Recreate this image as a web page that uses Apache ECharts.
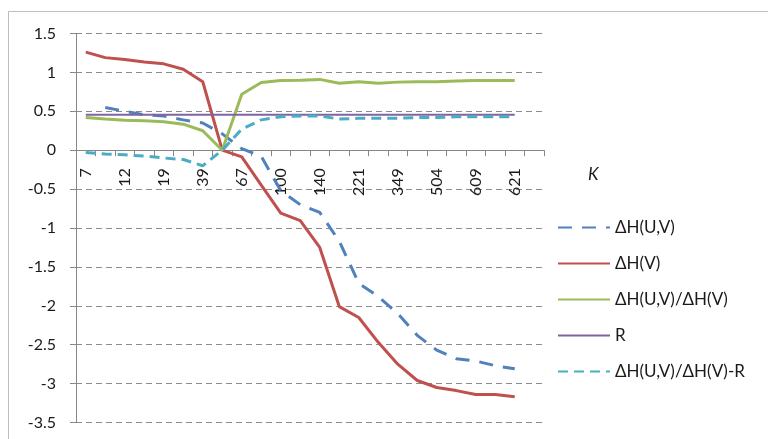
<!DOCTYPE html>
<html>
<head>
<meta charset="utf-8">
<script src="https://cdn.jsdelivr.net/npm/echarts@6/dist/echarts.min.js"></script>
<style>
html,body{margin:0;padding:0;background:#fff;}
#chart{width:768px;height:439px;}
</style>
</head>
<body>
<div id="chart"></div>
<script>
// Categories (K); every other label is shown on the axis
const categories = ['7','9','12','15','19','28','39','52','67','83','100','120','140','180','221','283','349','425','504','555','609','615','621',''];
const dHUV = [null,0.55,0.50,0.455,0.44,0.39,0.35,0.21,0.02,-0.08,-0.52,-0.70,-0.80,-1.17,-1.71,-1.88,-2.10,-2.38,-2.57,-2.68,-2.71,-2.77,-2.81];
const dHV = [1.26,1.19,1.165,1.135,1.11,1.04,0.88,0.0,-0.085,-0.45,-0.81,-0.905,-1.25,-2.01,-2.15,-2.47,-2.75,-2.96,-3.05,-3.09,-3.14,-3.14,-3.17];
const ratio = [0.42,0.40,0.385,0.377,0.365,0.335,0.25,0.0,0.72,0.87,0.895,0.9,0.91,0.86,0.88,0.86,0.875,0.88,0.88,0.89,0.895,0.895,0.895];
const R = [0.455,0.455,0.455,0.455,0.455,0.455,0.455,0.455,0.455,0.455,0.455,0.455,0.455,0.455,0.455,0.455,0.455,0.455,0.455,0.455,0.455,0.455,0.455];
const ratioMinusR = [-0.03,-0.05,-0.06,-0.075,-0.1,-0.12,-0.2,0.0,0.27,0.39,0.43,0.44,0.44,0.40,0.41,0.41,0.41,0.42,0.42,0.43,0.43,0.43,0.43];
const seriesNames = ['ΔH(U,V)','ΔH(V)','ΔH(U,V)/ΔH(V)','R','ΔH(U,V)/ΔH(V)-R'];
const yMin = -3.5, yMax = 1.5, yStep = 0.5;

const FONT = 'Lato, "Open Sans", sans-serif';
const H = 439, gridTop = 33.5, gridBottom = 16.5;
const gridH = H - gridTop - gridBottom;
// shift the category axis up so it crosses the value axis at 0
const zeroOffset = -gridH * (0 - yMin) / (yMax - yMin);

const chart = echarts.init(document.getElementById('chart'), null, {renderer:'canvas'});
const mk = (name, data, color, width, type) => ({
  name, type:'line', data, symbol:'none', showSymbol:false, smooth:false, animation:false,
  lineStyle:{color, width, type, cap:'butt'}, itemStyle:{color}
});
chart.setOption({
  animation:false,
  backgroundColor:'#fff',
  graphic:[{type:'rect', shape:{x:8.5,y:11.5,width:800,height:500}, style:{fill:'none', stroke:'#bdbdbd', lineWidth:1}, z:-1}],
  grid:{left:76, right:224, top:gridTop, bottom:gridBottom, containLabel:false, outerBoundsMode:'none'},
  legend:{
    orient:'vertical', left:552, top:214, itemWidth:52, itemHeight:16, itemGap:19,
    itemStyle:{opacity:0},
    textStyle:{fontFamily:FONT, fontSize:17, color:'#1a1a1a'},
    data:seriesNames
  },
  xAxis:{
    type:'category', data:categories, boundaryGap:true, position:'bottom', offset:zeroOffset,
    name:'K', nameLocation:'end', nameGap:44,
    nameTextStyle:{fontFamily:FONT, fontSize:17, fontStyle:'italic', color:'#1a1a1a', verticalAlign:'top', padding:[16,0,0,0]},
    axisLine:{show:true, onZero:false, lineStyle:{color:'#878787', width:1}},
    axisTick:{show:true, interval:0, length:6, lineStyle:{color:'#878787'}},
    axisLabel:{interval:1, rotate:90, margin:18, fontFamily:FONT, fontSize:16, color:'#1a1a1a'},
    splitLine:{show:false}
  },
  yAxis:{
    type:'value', min:yMin, max:yMax, interval:yStep,
    axisLine:{show:true, lineStyle:{color:'#878787', width:1}},
    axisTick:{show:true, length:6, lineStyle:{color:'#878787'}},
    axisLabel:{margin:20, fontFamily:FONT, fontSize:16, color:'#1a1a1a'},
    splitLine:{show:true, lineStyle:{color:'#8c8c8c', width:1, type:[6,4]}}
  },
  series:[
    mk(seriesNames[0], dHUV, '#4F81BD', 3, [14,10]),
    mk(seriesNames[1], dHV, '#C0504D', 3, 'solid'),
    mk(seriesNames[2], ratio, '#9BBB59', 3, 'solid'),
    mk(seriesNames[3], R, '#8064A2', 2, 'solid'),
    mk(seriesNames[4], ratioMinusR, '#4BACC6', 3, [10,6])
  ]
});
</script>
</body>
</html>
